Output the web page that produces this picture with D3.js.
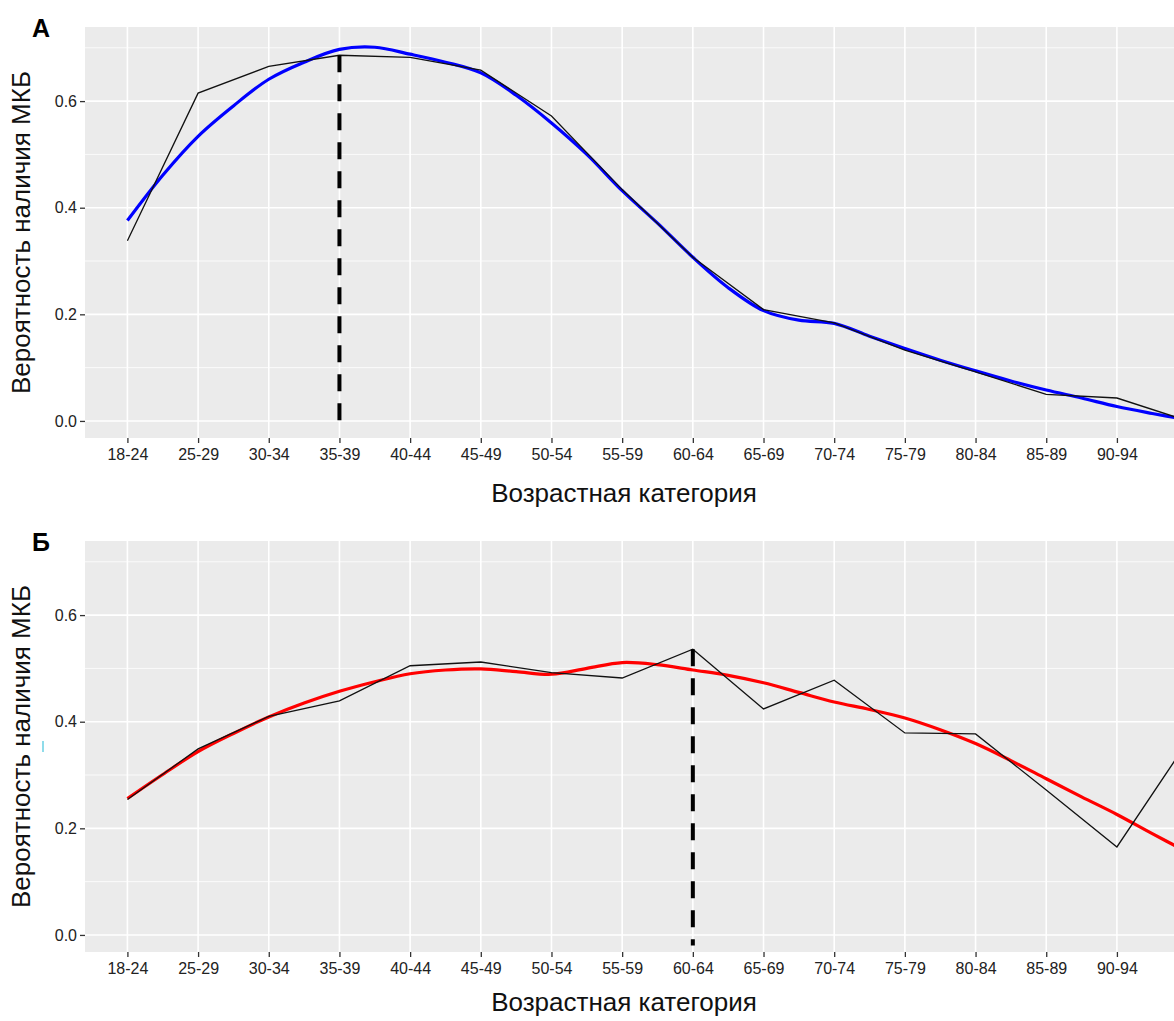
<!DOCTYPE html>
<html>
<head>
<meta charset="utf-8">
<script src="https://cdn.jsdelivr.net/npm/d3@7"></script>
<style>
body { margin: 0; background: #fff; overflow: hidden; }
text { font-family: "Liberation Sans", Arial, sans-serif; }
</style>
</head>
<body>
<div id="chart"></div>
<script>
const W = 1174, H = 1021;

// age groups (the last one runs off the right edge of the picture)
const ages = ["18-24", "25-29", "30-34", "35-39", "40-44", "45-49", "50-54", "55-59",
    "60-64", "65-69", "70-74", "75-79", "80-84", "85-89", "90-94", "95+"];

// observed probability, panel A
const obsA = [0.338, 0.615, 0.665, 0.686, 0.682, 0.658, 0.572, 0.434,
    0.307, 0.209, 0.184, 0.133, 0.092, 0.050, 0.043, 0.000];
// smoothed curve, panel A, read every half step
const fitA = [0.376, 0.461, 0.534, 0.591, 0.641, 0.673, 0.697, 0.701, 0.688, 0.673,
    0.653, 0.611, 0.559, 0.500, 0.432, 0.371, 0.307, 0.250, 0.207, 0.189,
    0.183, 0.159, 0.136, 0.114, 0.094, 0.075, 0.058, 0.043, 0.027, 0.014, 0.002];

// observed probability, panel B
const obsB = [0.254, 0.349, 0.410, 0.439, 0.505, 0.512, 0.492, 0.482,
    0.536, 0.424, 0.478, 0.379, 0.377, 0.272, 0.165, 0.363];
// smoothed curve, panel B, read every half step
const fitB = [0.256, 0.301, 0.344, 0.378, 0.409, 0.435, 0.457, 0.475, 0.490, 0.497,
    0.499, 0.494, 0.489, 0.500, 0.511, 0.507, 0.497, 0.487, 0.473, 0.455,
    0.437, 0.423, 0.407, 0.385, 0.359, 0.327, 0.293, 0.259, 0.226, 0.190, 0.155];

const fitPos = d3.range(0, 15.01, 0.5);
const yTicks = [0, 0.2, 0.4, 0.6];
const yMinor = [0.1, 0.3, 0.5, 0.7];

const panels = [
    { label: "А", top: 27, obs: obsA, fit: fitA, color: "#0000ff", peak: "35-39" },
    { label: "Б", top: 541, obs: obsB, fit: fitB, color: "#ff0000", peak: "60-64" }
];

const left = 85, right = 1230, ph = 411;

const svg = d3.select("#chart").append("svg")
    .attr("width", W)
    .attr("height", H);

const x = d3.scaleLinear()
    .domain([-0.6, ages.length - 0.4])
    .range([left, right]);

panels.forEach((p, n) => {
    const y = d3.scaleLinear()
        .domain([-0.032, 0.739])
        .range([p.top + ph, p.top]);
    const g = svg.append("g");

    g.append("rect")
        .attr("x", left)
        .attr("y", p.top)
        .attr("width", right - left)
        .attr("height", ph)
        .attr("fill", "#ebebeb");

    g.selectAll(".minor")
        .data(yMinor)
        .join("line")
        .attr("x1", left).attr("x2", right)
        .attr("y1", d => y(d)).attr("y2", d => y(d))
        .attr("stroke", "#fff")
        .attr("stroke-width", 0.8);

    g.selectAll(".hmajor")
        .data(yTicks)
        .join("line")
        .attr("x1", left).attr("x2", right)
        .attr("y1", d => y(d)).attr("y2", d => y(d))
        .attr("stroke", "#fff")
        .attr("stroke-width", 1.6);

    g.selectAll(".vmajor")
        .data(d3.range(ages.length))
        .join("line")
        .attr("x1", d => x(d)).attr("x2", d => x(d))
        .attr("y1", p.top).attr("y2", p.top + ph)
        .attr("stroke", "#fff")
        .attr("stroke-width", 1.6);

    // axes
    const ya = g.append("g")
        .attr("transform", `translate(${left},0)`)
        .call(d3.axisLeft(y).tickValues(yTicks).tickFormat(d3.format(".1f")).tickSize(5).tickPadding(3));
    const xa = g.append("g")
        .attr("transform", `translate(0,${p.top + ph})`)
        .call(d3.axisBottom(x)
            .tickValues(d3.range(ages.length).filter(i => x(i) < W - 20))
            .tickFormat(i => ages[i])
            .tickSize(5).tickPadding(6));
    [ya, xa].forEach(a => {
        a.select(".domain").remove();
        a.selectAll(".tick line").attr("stroke", "#333").attr("stroke-width", 1.3);
        a.selectAll(".tick text")
            .attr("fill", "#222")
            .style("font-size", "16px")
            .style("font-family", "'Liberation Sans', Arial, sans-serif");
    });

    // smoothed curve
    g.append("path")
        .datum(p.fit)
        .attr("d", d3.line().x((d, i) => x(fitPos[i])).y(d => y(d)).curve(d3.curveCatmullRom))
        .attr("fill", "none")
        .attr("stroke", p.color)
        .attr("stroke-width", 3.2);

    // observed line
    g.append("path")
        .datum(p.obs)
        .attr("d", d3.line().x((d, i) => x(i)).y(d => y(d)))
        .attr("fill", "none")
        .attr("stroke", "#111")
        .attr("stroke-width", 1.3);

    // peak marker
    const k = ages.indexOf(p.peak);
    g.append("line")
        .attr("x1", x(k)).attr("x2", x(k))
        .attr("y1", y(p.obs[k])).attr("y2", y(-0.02))
        .attr("stroke", "#000")
        .attr("stroke-width", 4)
        .attr("stroke-dasharray", "17 12");

    // titles
    g.append("text")
        .attr("x", 624)
        .attr("y", p.top + ph + (n === 0 ? 64 : 59))
        .attr("text-anchor", "middle")
        .style("font-size", "26px")
        .attr("fill", "#111")
        .text("Возрастная категория");

    g.append("text")
        .attr("transform", `translate(30,${p.top + ph / 2}) rotate(-90)`)
        .attr("text-anchor", "middle")
        .style("font-size", "26px")
        .attr("fill", "#111")
        .text("Вероятность наличия МКБ");

    g.append("text")
        .attr("x", 32)
        .attr("y", p.top + 10)
        .style("font-size", "25px")
        .style("font-weight", "bold")
        .attr("fill", "#000")
        .text(p.label);
});

// small cyan scan mark left of panel B
svg.append("line")
    .attr("x1", 43).attr("x2", 43)
    .attr("y1", 741).attr("y2", 752)
    .attr("stroke", "#8fdcea")
    .attr("stroke-width", 2);
</script>
</body>
</html>
